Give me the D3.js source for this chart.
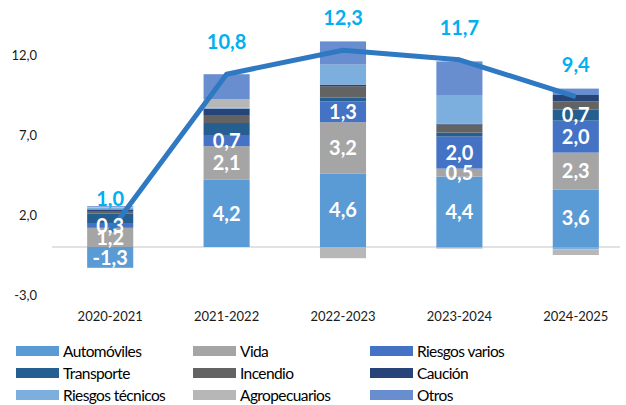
<!DOCTYPE html>
<html>
<head>
<meta charset="utf-8">
<script src="https://cdn.jsdelivr.net/npm/d3@7"></script>
<style>
  body { margin: 0; background: #fff; }
  text { font-family: Lato, "Open Sans", sans-serif; }
</style>
</head>
<body>
<svg width="626" height="405"></svg>
<script>
// values (percent points)
var categories = ["2020-2021", "2021-2022", "2022-2023", "2023-2024", "2024-2025"];

var automoviles     = [-1.3, 4.2, 4.6, 4.4, 3.6];
var vida            = [1.2, 2.1, 3.2, 0.5, 2.3];
var riesgosVarios   = [0.3, 0.7, 1.3, 2.0, 2.0];
var transporte      = [0.6, 0.75, 0.25, 0.25, 0.7];
var incendio        = [0.15, 0.5, 0.7, 0.5, 0.5];
var caucion         = [0.1, 0.4, 0.1, 0.05, 0.4];
var riesgosTecnicos = [0.1, 0.05, 1.25, 1.8, -0.15];
var agropecuarios   = [0.05, 0.55, -0.7, -0.1, -0.35];
var otros           = [0.05, 1.55, 1.45, 2.1, 0.4];

var total = [1.0, 10.8, 12.3, 11.7, 9.4];

var yTicks = [-3, 2, 7, 12];

var seriesNames = ["Automóviles", "Vida", "Riesgos varios", "Transporte", "Incendio",
                   "Caución", "Riesgos técnicos", "Agropecuarios", "Otros"];
var seriesValues = [automoviles, vida, riesgosVarios, transporte, incendio,
                    caucion, riesgosTecnicos, agropecuarios, otros];
var colors = ["#5B9BD5", "#A5A5A5", "#4472C4", "#255E91", "#636363",
              "#264478", "#7CAFDD", "#B7B7B7", "#698ED0"];

// which bars carry a value label, per series
var labelled = {
  "Automóviles": [0, 1, 2, 3, 4],
  "Vida": [0, 1, 2, 3, 4],
  "Riesgos varios": [0, 1, 2, 3, 4],
  "Transporte": [4]
};

var svg = d3.select("svg");

var rows = categories.map(function(c, i) {
  var r = {cat: c};
  seriesNames.forEach(function(s, j) { r[s] = seriesValues[j][i]; });
  return r;
});

var stacked = d3.stack()
    .keys(seriesNames)
    .offset(d3.stackOffsetDiverging)(rows);

var x = d3.scaleBand()
    .domain(categories)
    .range([52, 634])
    .paddingInner(0.604)
    .paddingOuter(0.302);

var y = d3.scaleLinear()
    .domain([-3, 12])
    .range([295, 55]);

// comma decimals, plain hyphen for the minus sign
var fmt = function(v) { return d3.format(".1f")(v).replace(".", ",").replace("\u2212", "-"); };

// zero line
svg.append("line")
    .attr("x1", 52).attr("x2", 620)
    .attr("y1", y(0)).attr("y2", y(0))
    .attr("stroke", "#D9D9D9")
    .attr("stroke-width", 1.5);

// y axis labels only, no line / ticks
var yAxis = svg.append("g")
    .attr("transform", "translate(44,0)")
    .call(d3.axisLeft(y).tickValues(yTicks).tickFormat(fmt).tickSize(0).tickPadding(7));
yAxis.select(".domain").remove();
yAxis.selectAll("text")
    .attr("font-family", "Lato, sans-serif")
    .attr("font-size", 13)
    .attr("fill", "#1a1a1a");

var xAxis = svg.append("g")
    .attr("transform", "translate(0,305)")
    .call(d3.axisBottom(x).tickSize(0).tickPadding(7));
xAxis.select(".domain").remove();
xAxis.selectAll("text")
    .attr("font-family", "Lato, sans-serif")
    .attr("font-size", 13)
    .attr("fill", "#1a1a1a");

// stacked bars
var layer = svg.append("g").selectAll("g")
    .data(stacked)
    .enter().append("g")
    .attr("fill", function(d, i) { return colors[i]; });

layer.selectAll("rect")
    .data(function(d) { return d; })
    .enter().append("rect")
    .attr("x", function(d) { return x(d.data.cat); })
    .attr("width", x.bandwidth())
    .attr("y", function(d) { return y(Math.max(d[0], d[1])); })
    .attr("height", function(d) { return Math.abs(y(d[0]) - y(d[1])); });

// total line
var line = d3.line()
    .x(function(d, i) { return x(categories[i]) + x.bandwidth() / 2; })
    .y(function(d) { return y(d); });

svg.append("path")
    .datum(total)
    .attr("d", line)
    .attr("fill", "none")
    .attr("stroke", "#2F79C3")
    .attr("stroke-width", 5)
    .attr("stroke-linejoin", "round");

// segment labels
stacked.forEach(function(s) {
  var which = labelled[s.key];
  if (!which) return;
  svg.append("g").selectAll("text")
      .data(s.filter(function(d, i) { return which.indexOf(i) >= 0; }))
      .enter().append("text")
      .attr("x", function(d) { return x(d.data.cat) + x.bandwidth() / 2; })
      .attr("y", function(d) { return y((d[0] + d[1]) / 2); })
      .attr("dy", "0.36em")
      .attr("text-anchor", "middle")
      .attr("font-size", 20)
      .attr("font-weight", "bold")
      .attr("fill", "#fff")
      .text(function(d) { return fmt(d.data[s.key]); });
});

// total labels
svg.append("g").selectAll("text")
    .data(total)
    .enter().append("text")
    .attr("x", function(d, i) { return x(categories[i]) + x.bandwidth() / 2; })
    .attr("y", function(d) { return y(d) - 32; })
    .attr("dy", "0.36em")
    .attr("text-anchor", "middle")
    .attr("font-size", 20)
    .attr("font-weight", "bold")
    .attr("fill", "#00B0F0")
    .text(fmt);

// legend, 3 columns
var legendX = [16, 193, 370],
    legendY = [346, 368, 390];

var item = svg.append("g").selectAll("g")
    .data(seriesNames)
    .enter().append("g")
    .attr("transform", function(d, i) {
      return "translate(" + legendX[i % 3] + "," + legendY[Math.floor(i / 3)] + ")";
    });

item.append("rect")
    .attr("width", 43)
    .attr("height", 10)
    .attr("fill", function(d, i) { return colors[i]; });

item.append("text")
    .attr("x", 47)
    .attr("y", 5)
    .attr("dy", "0.36em")
    .attr("font-size", 15.5)
    .attr("letter-spacing", "-0.6")
    .attr("fill", "#000")
    .text(function(d) { return d; });
</script>
</body>
</html>
